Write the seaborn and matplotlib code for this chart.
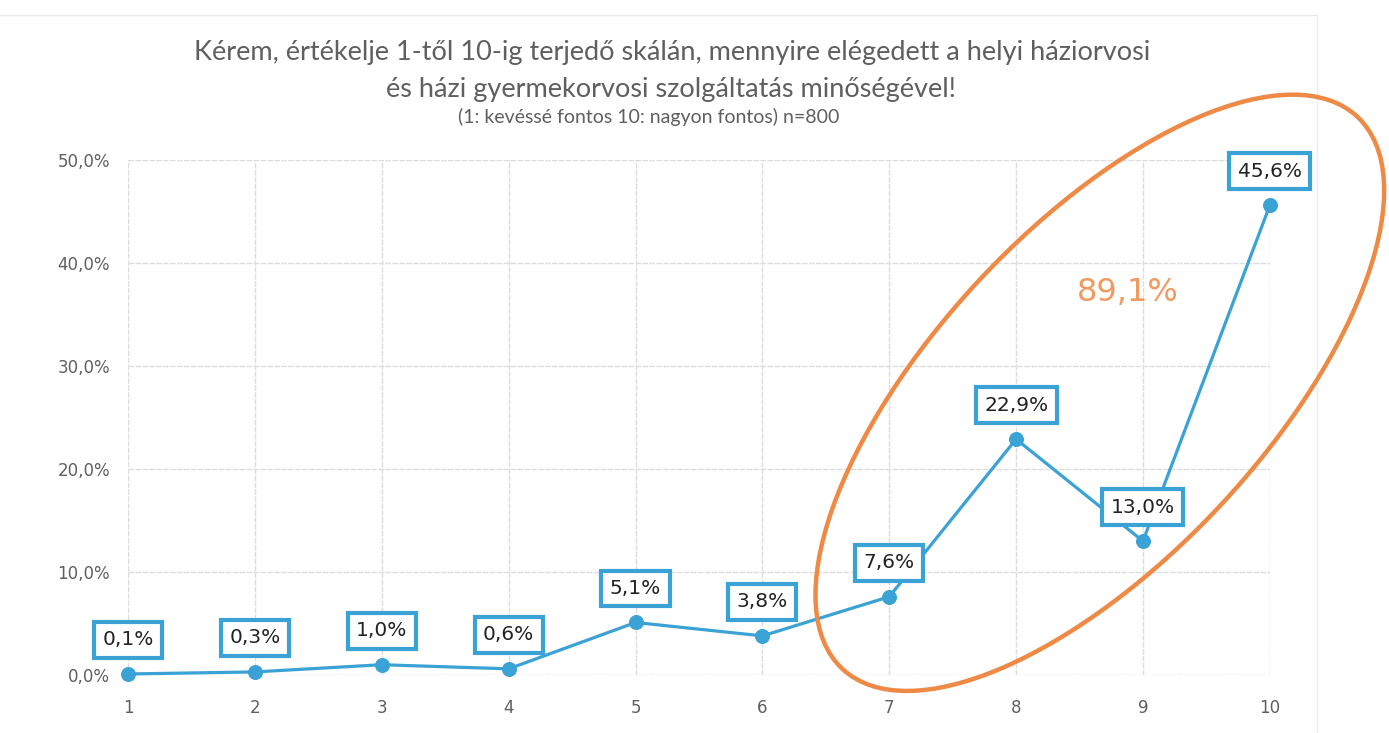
import numpy as np
import pandas as pd
import seaborn as sb
import matplotlib.pyplot as plt
from matplotlib.patches import Ellipse
from matplotlib.lines import Line2D
from matplotlib.transforms import IdentityTransform
from matplotlib.ticker import FuncFormatter

# answers on a 1-10 scale, share of respondents (%)
scale_points = [1, 2, 3, 4, 5, 6, 7, 8, 9, 10]
shares = [0.1, 0.3, 1.0, 0.6, 5.1, 3.8, 7.6, 22.9, 13.0, 45.6]
top_group_total = "89,1%"

title_lines = [
    "Kérem, értékelje 1-től 10-ig terjedő skálán, mennyire elégedett a helyi háziorvosi",
    "és házi gyermekorvosi szolgáltatás minőségével!",
]
subtitle = "(1: kevéssé fontos 10: nagyon fontos) n=800"

BLUE = "#3aa2d5"
ORANGE = "#ee8a45"
GREY = "#5f5f5f"


def pct(v):
    return f"{v:.1f}%".replace(".", ",")


def draw_chart():
    sb.set_style("white")
    plt.rcParams['font.family'] = ['DejaVu Sans']

    fig = plt.figure(figsize=(13.89, 7.33), dpi=100)
    ax = fig.add_axes([0.0922, 0.0791, 0.822, 0.7026])

    df = pd.DataFrame({"point": scale_points, "share": shares})

    # grid first so the line sits on top
    ax.set_xlim(1, 10)
    ax.set_ylim(0, 50)
    ax.set_xticks(scale_points)
    ax.set_yticks(np.arange(0, 51, 10))
    ax.grid(True, color="#dddddd", linewidth=1, linestyle=(0, (4, 1)))
    ax.set_axisbelow(True)

    sb.lineplot(data=df, x="point", y="share", ax=ax, color=BLUE,
                linewidth=2.3, marker="o", markersize=10,
                markeredgecolor=BLUE, clip_on=False)

    # boxed data labels above each point
    for x, y in zip(scale_points, shares):
        ax.annotate(pct(y), (x, y), xytext=(0, 24.5), textcoords="offset points",
                    ha="center", va="center", fontsize=14.5, color="#222222",
                    bbox=dict(boxstyle="square,pad=0.42", fc="white",
                              ec=BLUE, lw=3), zorder=5)

    for s in ax.spines.values():
        s.set_visible(False)

    ax.yaxis.set_major_formatter(FuncFormatter(lambda v, _: pct(v)))
    ax.tick_params(axis="both", length=0, labelsize=12, labelcolor=GREY)
    ax.tick_params(axis="y", pad=13)
    ax.tick_params(axis="x", pad=17)
    ax.set_xlabel("")
    ax.set_ylabel("")

    # faint chart-area frame (top and right edges visible in the scan)
    fig.add_artist(Line2D([0, 0.948], [0.9795, 0.9795], transform=fig.transFigure,
                          color="#e8e8e8", lw=1))
    fig.add_artist(Line2D([0.948, 0.948], [0, 0.9795], transform=fig.transFigure,
                          color="#ececec", lw=1))

    # orange ellipse around the top scores, drawn in pixel space
    fig.canvas.draw()
    cx, cy = ax.transData.transform((8.66, 27.4))
    ell = Ellipse((cx, cy), width=755, height=330, angle=47,
                  transform=IdentityTransform(), fill=False,
                  ec=ORANGE, lw=3.2, clip_on=False, zorder=6)
    fig.patches.append(ell)
    ax.text(8.88, 37.1, top_group_total, ha="center", va="center",
            fontsize=23, color="#f09a60")

    fig.text(0.484, 0.929, title_lines[0], ha="center", va="center",
             fontsize=19.5, color=GREY, family=["Lato", "DejaVu Sans"])
    fig.text(0.483, 0.878, title_lines[1], ha="center", va="center",
             fontsize=19.5, color=GREY, family=["Lato", "DejaVu Sans"])
    fig.text(0.467, 0.840, subtitle, ha="center", va="center",
             fontsize=14, color=GREY, family=["Lato", "DejaVu Sans"])

    plt.savefig("out.png", dpi=100)
    plt.close()


if __name__ == '__main__':
    draw_chart()
